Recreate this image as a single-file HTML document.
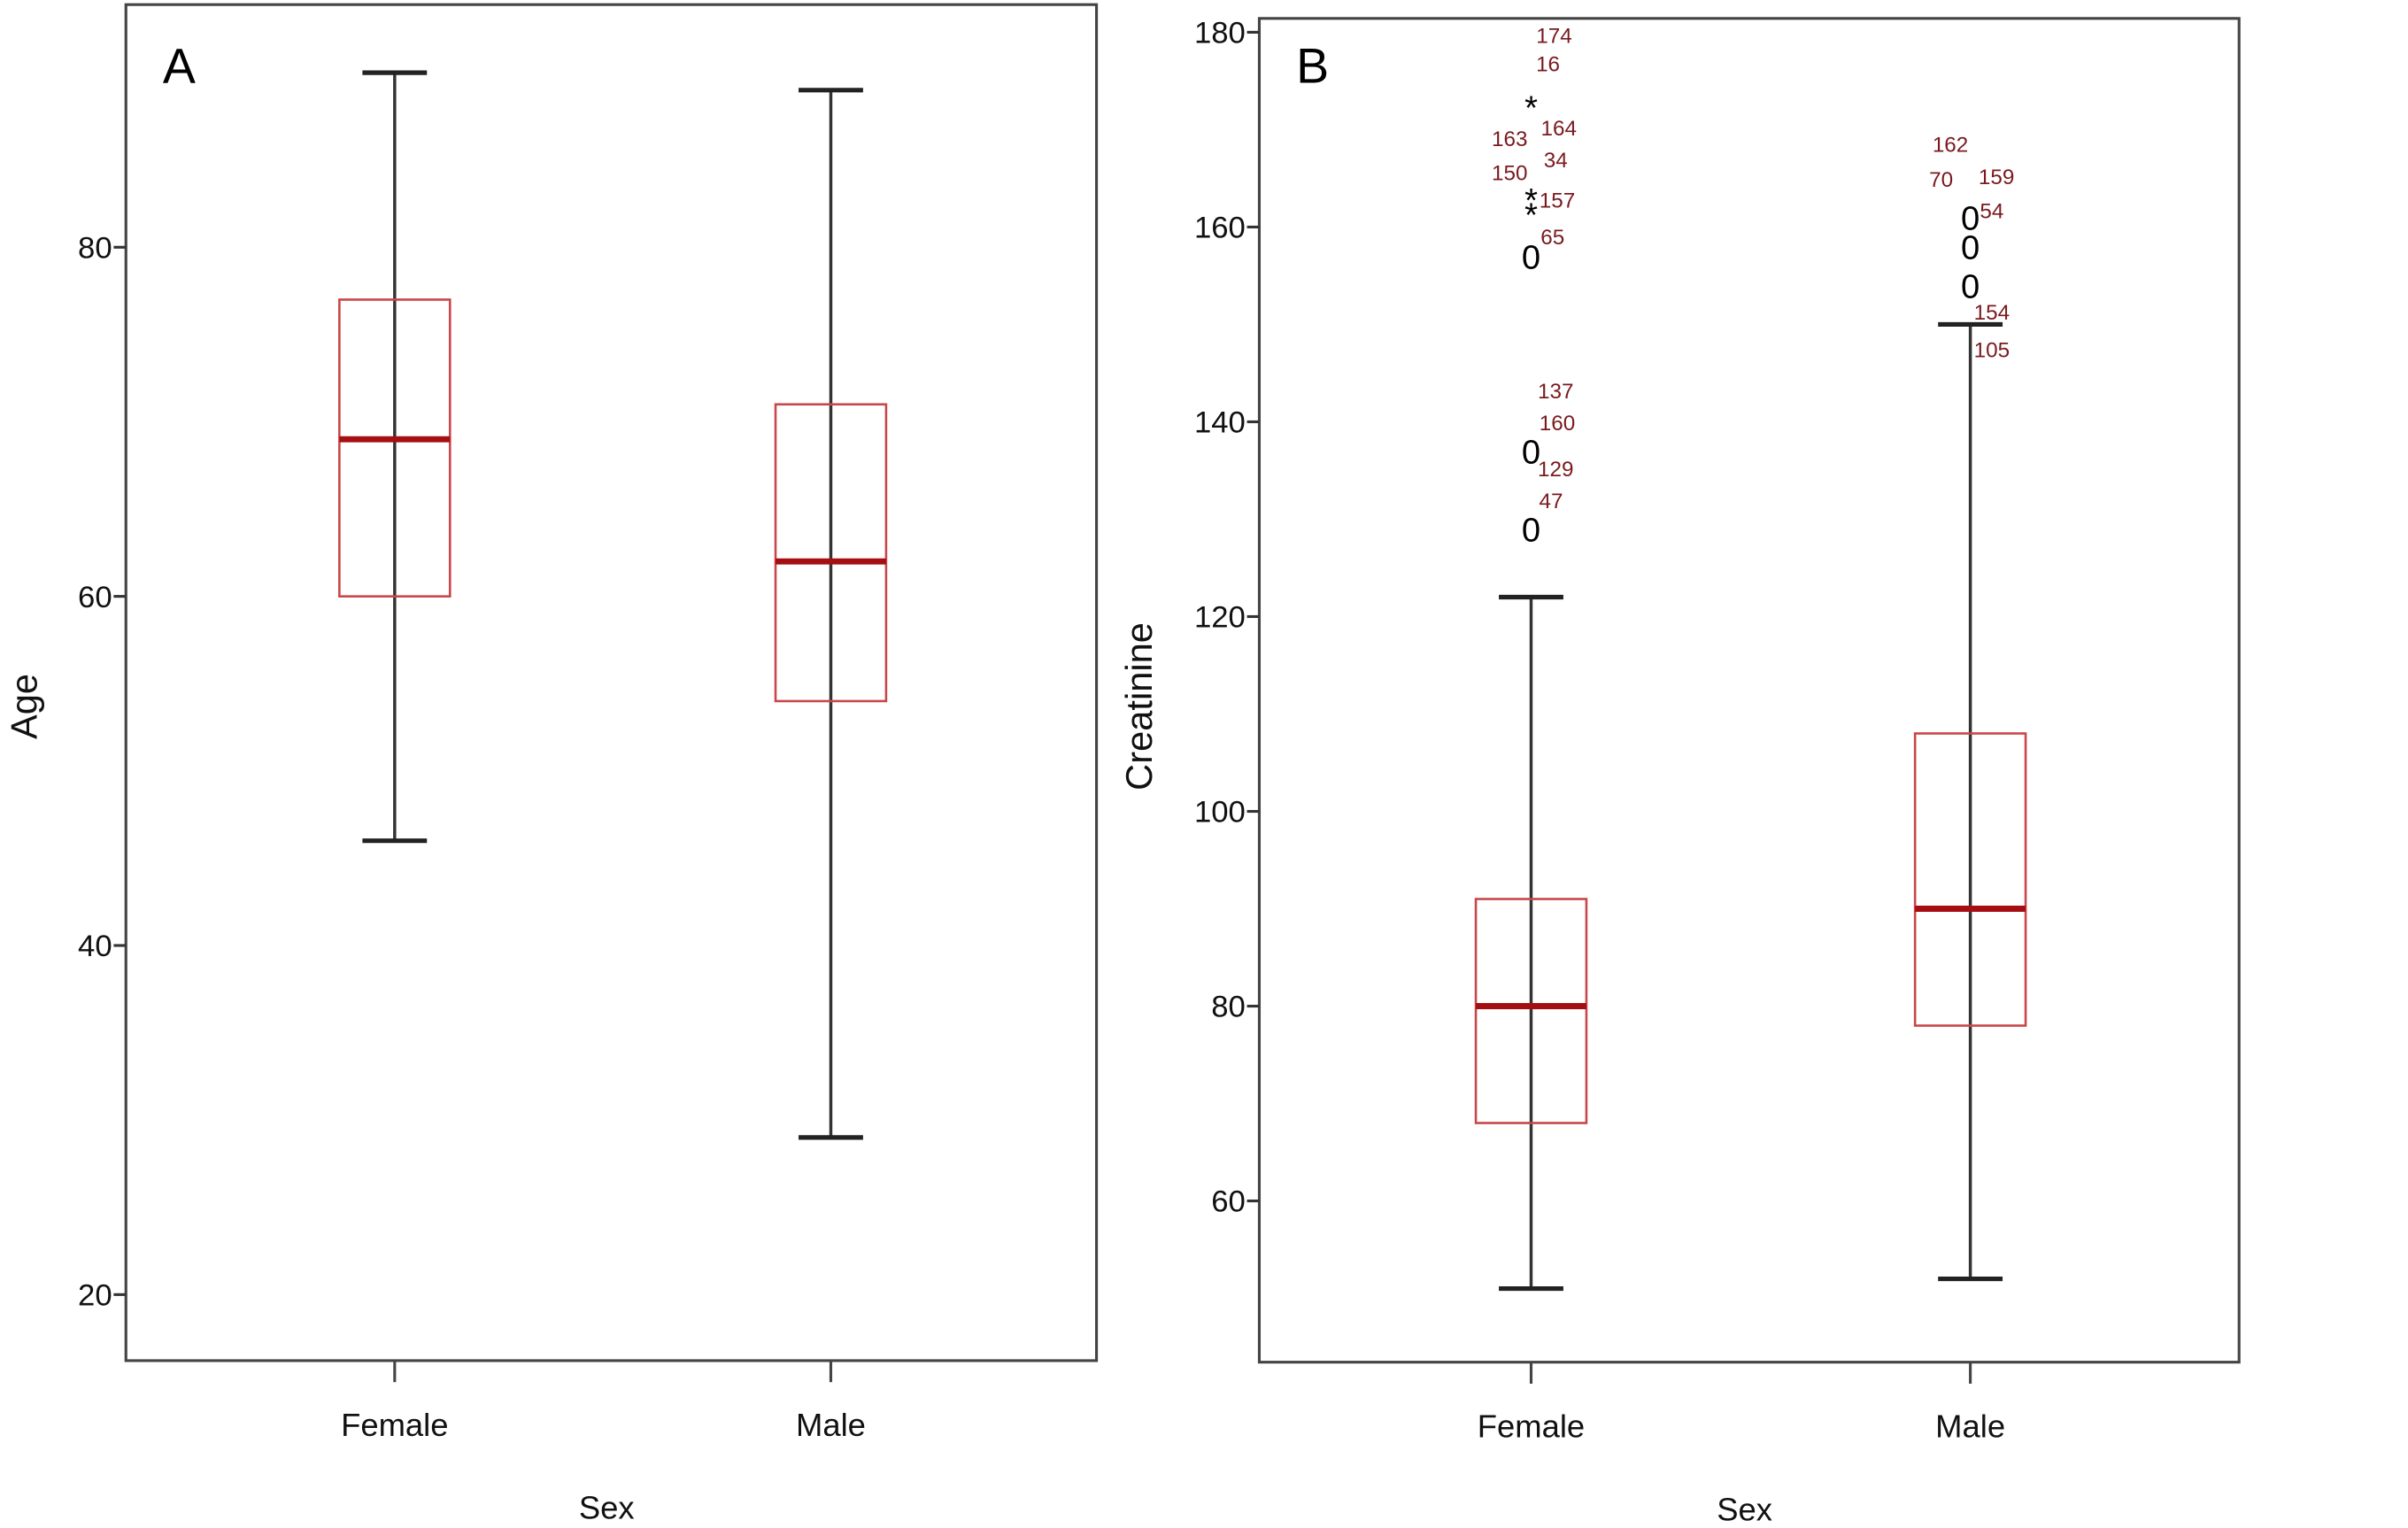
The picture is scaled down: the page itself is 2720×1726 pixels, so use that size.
<!DOCTYPE html>
<html><head><meta charset="utf-8"><style>
html,body{margin:0;padding:0;background:#fff;}
svg{display:block;font-family:"Liberation Sans",sans-serif;}
</style></head><body>
<svg id="chart" width="2720" height="1726" viewBox="0 0 2720 1726" xmlns="http://www.w3.org/2000/svg">
<rect width="2720" height="1726" fill="#fff"/>
<g id="root" transform="scale(1.7347)"></g>
</svg>
<script>
// Panel A data
const catsA = ["Female","Male"];
const aWhiskLo = [46, 29];
const aQ1 = [60, 54];
const aMed = [69, 62];
const aQ3 = [77, 71];
const aWhiskHi = [90, 89];
const aTicks = [20, 40, 60, 80];
// Panel B data
const catsB = ["Female","Male"];
const bWhiskLo = [51, 52];
const bQ1 = [68, 78];
const bMed = [80, 90];
const bQ3 = [91, 108];
const bWhiskHi = [122, 150];
const bTicks = [60, 80, 100, 120, 140, 160, 180];
const bOutCat = [0, 0, 0, 1, 1, 1];
const bOutVal = [157, 137, 129, 161, 158, 154];
const bExtCat = [0, 0, 0];
const bExtVal = [173, 163.5, 162];
const bLblCat = [0,0,0,0,0,0,0,0,0,0,0,0,1,1,1,1,1,1];
const bLblText = ["174","16","164","163","34","150","157","65","137","160","129","47","162","70","159","54","154","105"];
const bLblVal = [179.7,176.8,170.2,169.1,166.9,165.6,162.8,159.0,143.2,139.9,135.2,131.9,168.5,164.9,165.2,161.7,151.3,147.4];
const bLblDx = [15,11,18,-14,16,-14,17,14,16,17,16,13,-13,-19,17,14,14,14];

const NS = "http://www.w3.org/2000/svg";
const root = document.getElementById("root");
function mk(tag, attrs, parent){const e=document.createElementNS(NS,tag);for(const k in attrs)e.setAttribute(k,attrs[k]);(parent||root).appendChild(e);return e;}

function panel(cfg){
  const g = mk("g",{});
  
  
  const y = v => cfg.y0 + (v - cfg.v0) * (cfg.y1 - cfg.y0) / (cfg.v1 - cfg.v0);
  const x = i => cfg.xs[i];
  const fr = mk("rect",{x:cfg.L,y:cfg.T,width:cfg.R-cfg.L,height:cfg.B-cfg.T,fill:"none",stroke:"#444","stroke-width":1.8},g);
  
  
  cfg.ticks.forEach(t=>{
    const ln = mk("line",{x1:cfg.L-8,x2:cfg.L,y1:y(t),y2:y(t),stroke:"#333","stroke-width":1.8},g);
    
    
    const tx = mk("text",{x:cfg.L-9,y:y(t)+7,"text-anchor":"end","font-size":20,fill:"#111"},g);
    tx.textContent = t;
    
    
  });
  cfg.cats.forEach((c,i)=>{
    const tk = mk("line",{x1:x(i),x2:x(i),y1:cfg.B,y2:cfg.B+14,stroke:"#444","stroke-width":1.8},g);
    
    
    const tx = mk("text",{x:x(i),y:cfg.B+49,"text-anchor":"middle","font-size":21,fill:"#111"},g);
    tx.textContent = c;
    
    
    const bx = mk("g",{},g);
    
    
    mk("line",{x1:x(i),x2:x(i),y1:y(cfg.lo[i]),y2:y(cfg.hi[i]),stroke:"#333","stroke-width":2},bx);
    mk("line",{x1:x(i)-21,x2:x(i)+21,y1:y(cfg.lo[i]),y2:y(cfg.lo[i]),stroke:"#222","stroke-width":3},bx);
    mk("line",{x1:x(i)-21,x2:x(i)+21,y1:y(cfg.hi[i]),y2:y(cfg.hi[i]),stroke:"#222","stroke-width":3},bx);
    mk("rect",{x:x(i)-36,y:y(cfg.q3[i]),width:72,height:y(cfg.q1[i])-y(cfg.q3[i]),fill:"none",stroke:"#c8474a","stroke-width":1.5},bx);
    mk("line",{x1:x(i)-36,x2:x(i)+36,y1:y(cfg.med[i]),y2:y(cfg.med[i]),stroke:"#a50f12","stroke-width":4},bx);
  });
  const xt = mk("text",{x:cfg.xTitleX,y:cfg.B+103,"text-anchor":"middle","font-size":21,fill:"#111"},g);
  xt.textContent = "Sex";
  
  
  const yt = mk("text",{x:0,y:0,"text-anchor":"middle","font-size":24,fill:"#111",transform:`translate(${cfg.yTitleX},460) rotate(-90)`},g);
  yt.textContent = cfg.yTitle;
  
  
  const pl = mk("text",{x:cfg.L+24,y:cfg.letterY,"font-size":32,fill:"#000"},g);
  pl.textContent = cfg.letter;
  
  
  return {g,x,y};
}

panel({name:"panel-a-age",L:82,T:3,R:714,B:886,v0:80,y0:161,v1:20,y1:843,xs:[257,541],
  cats:catsA,lo:aWhiskLo,q1:aQ1,med:aMed,q3:aQ3,hi:aWhiskHi,ticks:aTicks,
  xTitleX:395,yTitle:"Age",yTitleX:24,letter:"A",letterY:54});

const pb = panel({name:"panel-b-creatinine",L:820,T:12,R:1458,B:887,v0:180,y0:21,v1:60,y1:782,xs:[997,1283],
  cats:catsB,lo:bWhiskLo,q1:bQ1,med:bMed,q3:bQ3,hi:bWhiskHi,ticks:bTicks,
  xTitleX:1136,yTitle:"Creatinine",yTitleX:750,letter:"B",letterY:54});

bOutVal.forEach((v,i)=>{
  const t = mk("text",{x:pb.x(bOutCat[i]),y:pb.y(v)+8,"text-anchor":"middle","font-size":22,fill:"#000"},pb.g);
  t.textContent = "0";
  
  
});
bExtVal.forEach((v,i)=>{
  const t = mk("text",{x:pb.x(bExtCat[i]),y:pb.y(v)+12,"text-anchor":"middle","font-size":22,fill:"#000"},pb.g);
  t.textContent = "*";
  
  
});
bLblText.forEach((s,i)=>{
  const t = mk("text",{x:pb.x(bLblCat[i])+bLblDx[i],y:pb.y(bLblVal[i])+5,"text-anchor":"middle","font-size":14,fill:"#7a1a1e"},pb.g);
  t.textContent = s;
  
  
});
</script>
</body></html>
